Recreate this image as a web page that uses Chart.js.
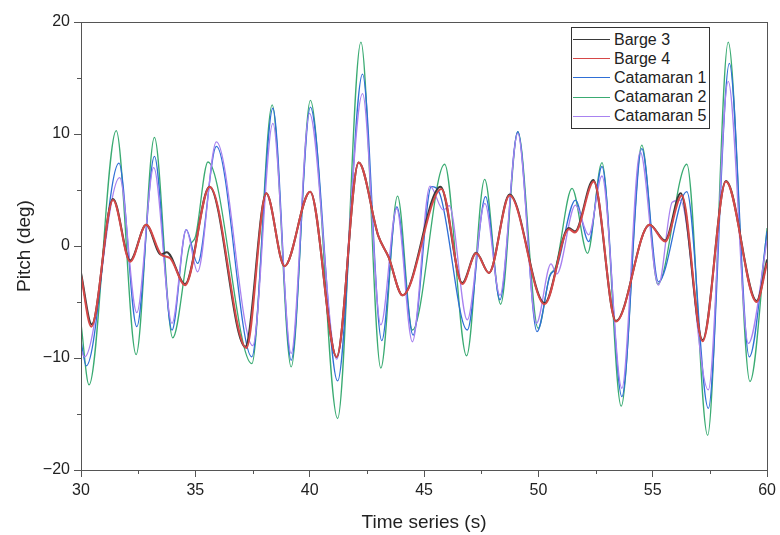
<!DOCTYPE html>
<html>
<head>
<meta charset="utf-8">
<script src="https://cdn.jsdelivr.net/npm/chart.js@4.4.1/dist/chart.umd.min.js"></script>
<style>
  html, body { margin: 0; padding: 0; background: #fff; }
  #wrap { position: relative; width: 780px; height: 535px; }
  #legend { position: absolute; left: 571px; top: 27px; width: 137px; height: 98px;
    border: 1px solid #333; background: #fff; font-family: 'Liberation Sans', Arial, sans-serif;
    font-size: 16px; color: #222; padding-top: 2px; box-sizing: content-box; }
  .row { display: flex; align-items: center; height: 19.2px; }
  .sw { width: 37px; margin-left: 1px; margin-right: 4px; height: 0; border-top: 1.3px solid; }
</style>
</head>
<body>
<div id="wrap">
  <canvas id="c" width="780" height="535"></canvas>
  <div id="legend"></div>
</div>
<script>
// ---- Data (time in s, pitch in deg) ----
const seriesNames = ['Barge 3', 'Barge 4', 'Catamaran 1', 'Catamaran 2', 'Catamaran 5'];
const xTicks = [30, 35, 40, 45, 50, 55, 60];
const yTicks = [-20, -10, 0, 10, 20];

const barge3 = [[30,-2.4],[30.47,-7.0],[31.4,4.2],[32.15,-1.3],[32.85,1.9],[33.5,-0.75],[33.75,-0.55],[34.55,-3.4],
  [35.62,5.3],[37.18,-9.0],[38.1,4.7],[38.9,-1.8],[40.02,4.85],[41.18,-9.9],[42.14,7.45],[43.0,0.9],[43.45,-1.0],
  [44.06,-4.4],[45.72,5.3],[46.67,-3.3],[47.28,-0.6],[47.84,-2.4],[48.74,4.6],[50.27,-5.1],[51.33,1.6],[51.6,1.3],
  [52.4,5.9],[53.39,-6.7],[54.86,1.9],[55.54,0.5],[56.22,4.7],[57.18,-8.4],[58.2,5.8],[59.54,-4.9],[60,-1.2]];
const barge4 = [[30,-2.6],[30.45,-7.2],[31.4,4.1],[32.15,-1.4],[32.85,1.9],[33.5,-0.75],[33.9,-1.1],[34.55,-3.5],
  [35.63,5.3],[37.23,-9.1],[38.1,4.7],[38.9,-1.8],[40.02,4.85],[41.18,-9.9],[42.14,7.45],[43.0,0.9],[43.45,-1.0],
  [44.06,-4.4],[45.76,5.1],[46.67,-3.4],[47.28,-0.65],[47.84,-2.4],[48.74,4.5],[50.27,-5.2],[51.33,1.5],[51.6,1.2],
  [52.42,5.75],[53.39,-6.75],[54.86,1.9],[55.54,0.4],[56.27,4.5],[57.18,-8.5],[58.2,5.75],[59.54,-5.0],[60,-1.5]];
const catamaran1 = [[30,-8.5],[30.23,-10.7],[31.66,7.4],[32.44,-7.2],[33.21,8.0],[33.98,-7.5],[34.6,1.45],[35.1,-1.55],
  [35.92,8.9],[37.47,-9.9],[38.39,12.3],[39.19,-10.2],[40.03,12.4],[41.22,-12.05],[42.31,15.35],[43.15,-8.45],
  [43.81,3.5],[44.52,-7.95],[45.32,5.3],[45.7,4.6],[46.89,-7.5],[47.69,4.4],[48.32,-4.8],[49.1,10.2],[49.94,-7.65],
  [50.5,-2.7],[50.8,-1.9],[51.62,4.1],[52.2,0.4],[52.78,7.1],[53.65,-13.45],[54.52,8.7],[55.25,-3.2],[56.49,4.85],
  [57.43,-14.5],[58.35,16.3],[59.22,-9.9],[60,1.3]];
const catamaran2 = [[30,-6.9],[30.35,-12.4],[31.54,10.3],[32.41,-9.7],[33.21,9.7],[34.01,-8.2],[34.75,0.0],[35.0,0.8],
  [35.55,7.5],[37.47,-10.5],[38.36,12.6],[39.19,-10.8],[40.03,13.0],[41.22,-15.4],[42.24,18.2],[43.11,-10.9],
  [43.84,4.45],[44.49,-7.5],[45.9,7.3],[46.86,-9.8],[47.65,5.95],[48.35,-5.2],[49.1,10.2],[49.99,-7.35],[50.5,-2.6],
  [50.75,-1.9],[51.47,5.15],[52.15,-0.65],[52.78,7.45],[53.62,-14.3],[54.52,9.0],[55.22,-3.4],[56.49,7.3],
  [57.4,-16.9],[58.3,18.2],[59.25,-12.1],[60,1.6]];
const catamaran5 = [[30,-9.3],[30.16,-9.9],[31.69,6.1],[32.44,-5.95],[33.18,7.0],[33.98,-6.9],[34.6,1.45],[35.1,-2.3],
  [35.92,9.3],[37.51,-8.9],[38.39,10.95],[39.19,-9.6],[39.99,11.85],[41.18,-10.1],[42.31,13.6],[43.11,-7.05],
  [43.8,3.35],[44.49,-8.55],[45.26,5.35],[45.85,3.2],[46.1,3.6],[46.89,-6.6],[47.66,3.8],[48.32,-4.4],[49.1,10.05],
  [49.91,-6.9],[50.55,-1.6],[50.8,-2.5],[51.62,3.65],[52.2,1.0],[52.78,6.25],[53.65,-12.7],[54.45,8.4],[55.25,-3.5],
  [55.85,3.9],[56.2,4.1],[57.43,-12.85],[58.3,14.7],[59.18,-8.7],[60,0.5]];

const seriesData = [barge3, barge4, catamaran1, catamaran2, catamaran5];
const seriesColors = ['#3a3a3a', '#d64848', '#2f6fd6', '#3aab72', '#a882f0'];
const seriesWidths = [2, 2, 1.3, 1.3, 1.3];
const seriesOrder = [1, 0, 3, 4, 2];

Chart.defaults.font.family = "'Liberation Sans', Arial, sans-serif";

const fmt = v => String(v).replace('-', '\u2212');

const frameAndMinor = {
  id: 'frameAndMinor',
  afterDraw(chart) {
    const {ctx, chartArea: a, scales: {x, y}} = chart;
    ctx.save();
    ctx.strokeStyle = '#555';
    ctx.lineWidth = 1;
    ctx.strokeRect(Math.round(a.left) + 0.5, Math.round(a.top) + 0.5,
      Math.round(a.right - a.left), Math.round(a.bottom - a.top));
    ctx.beginPath();
    for (let i = 0; i < yTicks.length - 1; i++) {
      const p = Math.round(y.getPixelForValue((yTicks[i] + yTicks[i + 1]) / 2)) + 0.5;
      ctx.moveTo(a.left - 4, p); ctx.lineTo(a.left, p);
    }
    for (let i = 0; i < xTicks.length - 1; i++) {
      const p = Math.round(x.getPixelForValue((xTicks[i] + xTicks[i + 1]) / 2)) + 0.5;
      ctx.moveTo(p, a.bottom); ctx.lineTo(p, a.bottom + 4);
    }
    ctx.stroke();
    ctx.restore();
  }
};

const chart = new Chart(document.getElementById('c'), {
  type: 'line',
  data: {
    datasets: seriesNames.map((name, i) => ({
      label: name,
      data: seriesData[i].map(([t, v]) => ({x: t, y: v})),
      borderColor: seriesColors[i],
      borderWidth: seriesWidths[i],
      cubicInterpolationMode: 'monotone',
      pointRadius: 0,
      fill: false,
      order: seriesOrder[i]
    }))
  },
  options: {
    responsive: false,
    animation: false,
    devicePixelRatio: 1,
    layout: {padding: {top: 22, right: 11, left: 0, bottom: 0}},
    plugins: {legend: {display: false}, tooltip: {enabled: false}},
    scales: {
      x: {
        type: 'linear', min: 30, max: 60,
        afterBuildTicks: s => { s.ticks = xTicks.map(v => ({value: v})); },
        ticks: {font: {size: 16}, color: '#222', padding: 4, maxRotation: 0, callback: v => fmt(v)},
        grid: {drawOnChartArea: false, tickLength: 7, color: '#555'},
        border: {color: '#555'},
        title: {display: true, text: 'Time series (s)', font: {size: 19}, color: '#222', padding: {top: 0, bottom: 1}},
        afterFit: s => { s.height = 65; }
      },
      y: {
        type: 'linear', min: -20, max: 20,
        afterBuildTicks: s => { s.ticks = yTicks.map(v => ({value: v})); },
        ticks: {font: {size: 16}, color: '#222', padding: 4, callback: v => fmt(v)},
        grid: {drawOnChartArea: false, tickLength: 7, color: '#555'},
        border: {color: '#555'},
        title: {display: true, text: 'Pitch (deg)', font: {size: 19}, color: '#222', padding: {top: 13, bottom: 0}},
        afterFit: s => { s.width = 81; }
      }
    }
  },
  plugins: [frameAndMinor]
});

// HTML legend built from the chart's datasets
const legendEl = document.getElementById('legend');
chart.data.datasets.forEach(ds => {
  const row = document.createElement('div');
  row.className = 'row';
  const sw = document.createElement('span');
  sw.className = 'sw';
  sw.style.borderTopColor = ds.borderColor;
  const tx = document.createElement('span');
  tx.textContent = ds.label;
  row.appendChild(sw); row.appendChild(tx);
  legendEl.appendChild(row);
});
</script>
</body>
</html>
